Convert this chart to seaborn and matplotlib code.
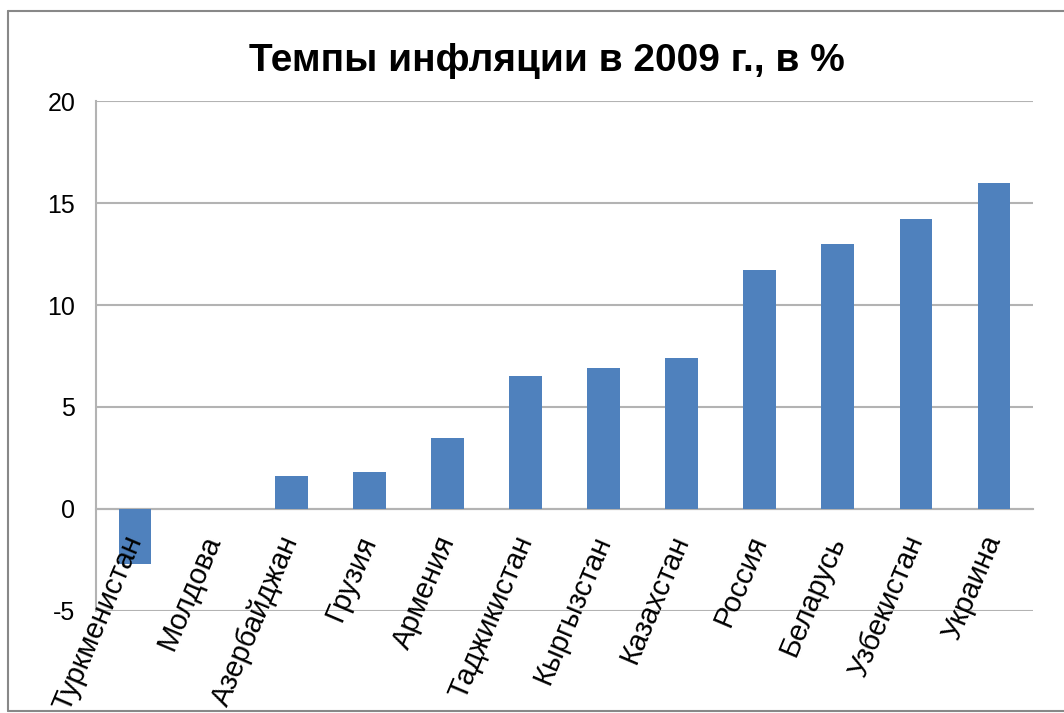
import matplotlib
matplotlib.use("Agg")
import matplotlib.pyplot as plt
import seaborn as sns
from matplotlib.lines import Line2D

# Dati: tassi di inflazione 2009, %
countries = ["Туркменистан", "Молдова", "Азербайджан", "Грузия", "Армения",
             "Таджикистан", "Кыргызстан", "Казахстан", "Россия", "Беларусь",
             "Узбекистан", "Украина"]
inflation = [-2.7, 0.0, 1.6, 1.8, 3.5, 6.5, 6.9, 7.4, 11.7, 13.0, 14.2, 16.0]
yticks = [-5, 0, 5, 10, 15, 20]

sns.set_style("white")
plt.rcParams['font.family'] = ['Liberation Sans', 'DejaVu Sans']
plt.rcParams['axes.unicode_minus'] = False

fig = plt.figure(figsize=(10.64, 7.13), dpi=100)
ax = fig.add_axes([0.0902, 0.1431, 0.8808, 0.7152])

sns.barplot(x=countries, y=inflation, color="#4F81BD", saturation=1,
            width=0.42, linewidth=0, ax=ax, zorder=2)

ax.set_ylim(-5, 20)
ax.set_yticks(yticks)
ax.set_xlim(-0.5, len(countries) - 0.5)
ax.yaxis.grid(True, color="#B3B3B3", linewidth=1.5)
ax.set_axisbelow(True)
ax.xaxis.set_zorder(5)
ax.set_xlabel("")
ax.set_ylabel("")

for s in ["top", "right"]:
    ax.spines[s].set_visible(False)
ax.spines["left"].set_color("#B3B3B3")
ax.spines["left"].set_linewidth(1.5)
ax.spines["bottom"].set_position(("data", 0))
ax.spines["bottom"].set_color("#B3B3B3")
ax.spines["bottom"].set_linewidth(1.5)
ax.spines["bottom"].set_zorder(1)

ax.tick_params(axis="y", length=0, pad=15, labelsize=18, labelcolor="black")
ax.tick_params(axis="x", length=0, pad=20, labelsize=21, labelcolor="black")
plt.setp(ax.get_xticklabels(), rotation=67, ha="right", va="center",
         rotation_mode="anchor")

fig.text(0.514, 0.915, "Темпы инфляции в 2009 г., в %", ha="center",
         va="center", fontsize=28, fontweight="bold", color="black")

# cornice esterna
fc = "#888888"
fig.add_artist(Line2D([8/1064, 1.0], [1 - 11/713, 1 - 11/713], color=fc, lw=1.5))
fig.add_artist(Line2D([8/1064, 8/1064], [1 - 11/713, 2/713], color=fc, lw=1.5))
fig.add_artist(Line2D([8/1064, 1.0], [2/713, 2/713], color=fc, lw=1.5))

fig.savefig("out.png", dpi=100)
